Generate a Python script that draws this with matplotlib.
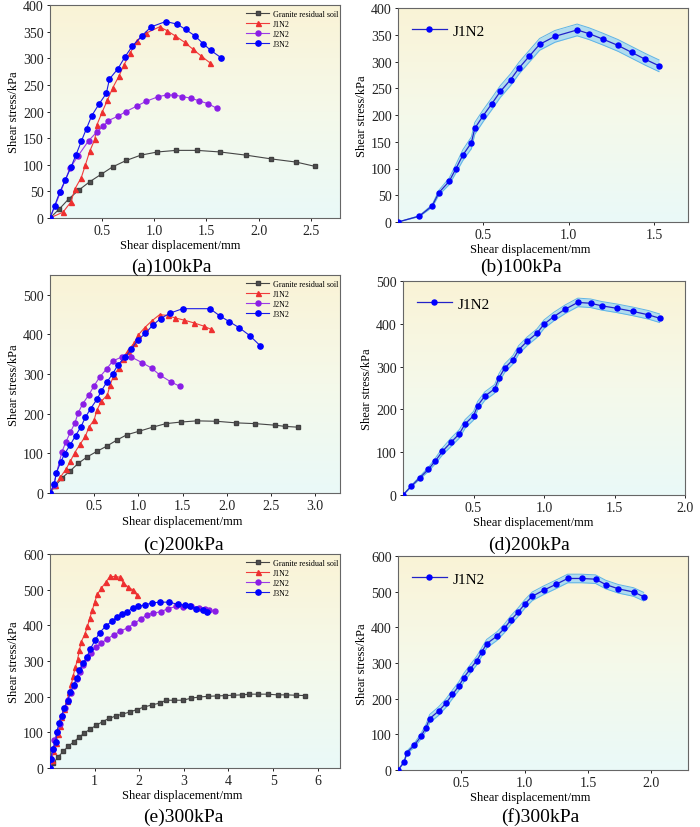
import numpy as np
import matplotlib
matplotlib.use('Agg')
import matplotlib.pyplot as plt
from matplotlib.colors import LinearSegmentedColormap

plt.rcParams['font.family'] = ['Liberation Serif', 'DejaVu Serif']
plt.rcParams['mathtext.fontset'] = 'stix'

# ---------------- data ----------------
# (a) 100 kPa
g100_x = [0, 0.09, 0.18, 0.28, 0.38, 0.49, 0.60, 0.73, 0.87, 1.03, 1.21, 1.41, 1.63, 1.88, 2.12, 2.36, 2.54]
g100_y = [0, 17, 36, 53, 68, 82, 96, 108, 118, 124, 127, 127, 124, 118, 111, 105, 97]
j1_100_x = [0, 0.125, 0.20, 0.24, 0.30, 0.34, 0.38, 0.43, 0.45, 0.50, 0.55, 0.60, 0.66, 0.71, 0.77,
            0.83, 0.92, 1.05, 1.12, 1.20, 1.29, 1.37, 1.45, 1.53]
j1_100_y = [0, 11, 30, 55, 76, 100, 125, 148, 175, 199, 221, 244, 266, 288, 310,
            332, 347, 359, 352, 342, 330, 317, 304, 292]
j2_100_x = [0, 0.10, 0.19, 0.27, 0.37, 0.45, 0.51, 0.56, 0.65, 0.73, 0.83, 0.92, 1.04, 1.12, 1.19,
            1.27, 1.35, 1.43, 1.51, 1.60]
j2_100_y = [0, 48, 93, 117, 145, 162, 172, 183, 191, 200, 210, 219, 228, 231, 231,
            228, 225, 220, 215, 206]
j3_100_x = [0, 0.045, 0.092, 0.146, 0.20, 0.25, 0.30, 0.35, 0.40, 0.47, 0.54, 0.57, 0.65, 0.72, 0.79,
            0.88, 0.97, 1.11, 1.22, 1.30, 1.39, 1.47, 1.54, 1.64]
j3_100_y = [0, 23, 48, 71, 95, 119, 144, 168, 192, 214, 234, 261, 280, 303, 323,
            342, 359, 369, 364, 354, 342, 327, 315, 301]

# (c) 200 kPa
g200_x = [0, 0.06, 0.14, 0.23, 0.32, 0.42, 0.53, 0.64, 0.76, 0.87, 1.01, 1.16, 1.31, 1.48, 1.66,
          1.88, 2.10, 2.32, 2.55, 2.66, 2.81]
g200_y = [0, 18, 39, 56, 75, 91, 105, 118, 134, 147, 156, 166, 175, 179, 182,
          181, 177, 175, 171, 168, 166]
j1_200_x = [0, 0.057, 0.118, 0.18, 0.23, 0.28, 0.34, 0.40, 0.44, 0.50, 0.53, 0.58, 0.65, 0.68, 0.72,
            0.78, 0.82, 0.88, 0.95, 1.00, 1.07, 1.15, 1.24, 1.33, 1.41, 1.52, 1.63, 1.74, 1.82]
j1_200_y = [0, 20, 40, 60, 80, 102, 123, 143, 166, 185, 209, 231, 248, 273, 296,
            316, 339, 359, 378, 399, 417, 434, 450, 448, 442, 436, 429, 421, 413]
j2_200_x = [0, 0.04, 0.135, 0.18, 0.23, 0.28, 0.32, 0.37, 0.44, 0.50, 0.56, 0.64, 0.71, 0.81, 0.92,
            1.04, 1.15, 1.24, 1.37, 1.47]
j2_200_y = [0, 20, 104, 129, 153, 176, 203, 225, 248, 271, 292, 313, 333, 343, 343,
            329, 315, 298, 280, 269]
j3_200_x = [0, 0.05, 0.07, 0.12, 0.165, 0.23, 0.29, 0.35, 0.40, 0.46, 0.53, 0.58, 0.64, 0.71, 0.77,
            0.85, 0.92, 0.99, 1.08, 1.16, 1.25, 1.36, 1.50, 1.81, 1.92, 2.03, 2.14, 2.26, 2.38]
j3_200_y = [0, 23, 50, 77, 99, 122, 145, 167, 191, 213, 236, 257, 279, 301, 324,
            343, 363, 385, 403, 423, 440, 454, 465, 465, 447, 432, 417, 397, 371]

# (e) 300 kPa
g300_x = [0, 0.075, 0.19, 0.30, 0.41, 0.53, 0.65, 0.77, 0.90, 1.04, 1.18, 1.32, 1.48, 1.62, 1.79,
          1.95, 2.11, 2.29, 2.46, 2.60, 2.78, 2.98, 3.17, 3.35, 3.54, 3.74, 3.92, 4.10, 4.30, 4.47,
          4.67, 4.88, 5.10, 5.30, 5.51, 5.72]
g300_y = [0, 14, 32, 47, 61, 73, 86, 98, 109, 120, 130, 139, 146, 151, 157,
          164, 171, 177, 182, 190, 190, 190, 196, 199, 201, 202, 203, 204, 205, 207,
          207, 207, 205, 205, 204, 203]
j1_300_x = [0, 0.048, 0.07, 0.13, 0.18, 0.22, 0.25, 0.32, 0.38, 0.43, 0.48, 0.52, 0.57, 0.62, 0.66,
            0.70, 0.78, 0.84, 0.89, 0.95, 1.00, 1.06, 1.15, 1.25, 1.34, 1.45, 1.56, 1.64, 1.74, 1.86, 1.94]
j1_300_y = [0, 22, 49, 70, 94, 118, 144, 165, 188, 212, 235, 259, 283, 306, 330,
            354, 375, 397, 420, 443, 465, 487, 504, 521, 537, 537, 535, 520, 508, 499, 486]
j2_300_x = [0, 0.03, 0.07, 0.10, 0.16, 0.22, 0.27, 0.33, 0.40, 0.46, 0.53, 0.60, 0.67, 0.74, 0.82,
            0.91, 1.02, 1.15, 1.28, 1.43, 1.58, 1.74, 1.89, 2.04, 2.18, 2.30, 2.48, 2.65, 2.83, 2.97,
            3.15, 3.33, 3.47, 3.57, 3.69]
j2_300_y = [0, 25, 52, 78, 100, 123, 146, 168, 190, 210, 230, 250, 270, 290, 308,
            323, 338, 350, 362, 373, 384, 393, 406, 418, 430, 434, 438, 447, 453, 452,
            454, 449, 447, 442, 439]
j3_300_x = [0, 0.02, 0.06, 0.13, 0.15, 0.20, 0.26, 0.32, 0.40, 0.45, 0.53, 0.60, 0.66, 0.74, 0.83,
            0.90, 1.01, 1.11, 1.25, 1.38, 1.51, 1.62, 1.73, 1.85, 1.97, 2.12, 2.29, 2.46, 2.66, 2.87,
            3.02, 3.14, 3.27, 3.42, 3.51]
j3_300_y = [0, 25, 53, 74, 100, 125, 146, 168, 189, 212, 232, 253, 274, 293, 312,
            333, 358, 379, 398, 411, 424, 432, 438, 448, 453, 457, 463, 465, 465, 459,
            457, 453, 447, 442, 437]

series_names = ['Granite residual soil', 'J1N2', 'J2N2', 'J3N2']
subtitles = ['(a)100kPa', '(b)100kPa', '(c)200kPa', '(d)200kPa', '(e)300kPa', '(f)300kPa']

# ---------------- style ----------------
W, H = 700, 828
bg_cmap = LinearSegmentedColormap.from_list('bg', ['#eafaf8', '#f5f9ea', '#faf3d6'])
styles = [
    dict(color='#454545', marker='s', ms=3.0, mfc='#505050', mec='#404040'),
    dict(color='#f03c3c', marker='^', ms=3.6, mfc='#ee3030', mec='#ee3030'),
    dict(color='#9a3ce6', marker='o', ms=3.6, mfc='#8a1ee6', mec='#8a1ee6'),
    dict(color='#1a1ae6', marker='o', ms=3.8, mfc='#0000ff', mec='#0000ff'),
]

fig = plt.figure(figsize=(W / 100, H / 100), dpi=100)


def px_axes(l, t, r, b):
    return fig.add_axes([l / W, 1 - b / H, (r - l) / W, (b - t) / H])


def paint(ax, xlim, ylim, xticks, yticks, xfmt):
    grad = np.linspace(0, 1, 256).reshape(-1, 1)
    ax.imshow(grad, cmap=bg_cmap, aspect='auto', extent=[0, 1, 0, 1],
              transform=ax.transAxes, origin='lower', zorder=0)
    ax.set_xlim(*xlim)
    ax.set_ylim(*ylim)
    ax.set_xticks(xticks)
    ax.set_xticklabels([xfmt.format(v) for v in xticks])
    ax.set_yticks(yticks)
    ax.tick_params(direction='out', length=2.5, width=0.7, labelsize=10, pad=2, colors='#222222')
    for s in ax.spines.values():
        s.set_color('#666666')
        s.set_linewidth(0.8)
    ax.set_xlabel('Shear displacement/mm', fontsize=9)
    ax.set_ylabel('Shear stress/kPa', fontsize=9, labelpad=2)


def left_panel(box, data, xlim, ylim, xticks, yticks, xfmt, xl_pos, sub_pos, sub):
    ax = px_axes(*box)
    paint(ax, xlim, ylim, xticks, yticks, xfmt)
    for (x, y), name, st in zip(data, series_names, styles):
        ax.plot(x, y, lw=0.8, label=name, zorder=3, **st)
    ax.legend(loc='upper left', bbox_to_anchor=(0.66, 1.0), frameon=False, fontsize=5.8,
              handlelength=2.8, handletextpad=0.5, labelspacing=0.25, borderaxespad=0.2)
    ax.xaxis.set_label_coords(xl_pos, -0.1)
    fig.text(sub_pos[0] / W, 1 - sub_pos[1] / H, sub, ha='center', va='center', fontsize=14)
    return ax


def right_panel(box, x, y, xlim, ylim, xticks, yticks, xfmt, xl_pos, sub_pos, sub, band):
    ax = px_axes(*box)
    paint(ax, xlim, ylim, xticks, yticks, xfmt)
    x = np.asarray(x, float)
    y = np.asarray(y, float)
    hw = np.minimum(band, 0.08 * y)
    ax.fill_between(x, y - hw, y + hw, color='#a9daf2', alpha=0.9, lw=0, zorder=2)
    ax.plot(x, y + hw, color='#5fb4e6', lw=0.7, zorder=2)
    ax.plot(x, y - hw, color='#5fb4e6', lw=0.7, zorder=2)
    ax.plot(x, y, color='#2222c8', lw=0.9, marker='o', ms=3.6, mfc='#0000ff', mec='#0000ff',
            label='J1N2', zorder=3)
    ax.legend(loc='upper left', bbox_to_anchor=(0.0, 0.99), frameon=False, fontsize=11,
              handlelength=2.3, handletextpad=0.35, borderaxespad=0.5)
    ax.xaxis.set_label_coords(xl_pos, -0.1)
    fig.text(sub_pos[0] / W, 1 - sub_pos[1] / H, sub, ha='center', va='center', fontsize=14)
    return ax


left_panel((50, 6, 340, 219),
           [(g100_x, g100_y), (j1_100_x, j1_100_y), (j2_100_x, j2_100_y), (j3_100_x, j3_100_y)],
           (0, 2.78), (0, 400), [0.5, 1.0, 1.5, 2.0, 2.5], range(0, 401, 50), '{:.1f}',
           0.45, (171, 267), subtitles[0])
right_panel((398, 9, 688, 223), j1_100_x, j1_100_y,
            (0, 1.70), (0, 400), [0.5, 1.0, 1.5], range(0, 401, 50), '{:.1f}',
            0.455, (521, 267), subtitles[1], 11)

left_panel((50, 276, 340, 494),
           [(g200_x, g200_y), (j1_200_x, j1_200_y), (j2_200_x, j2_200_y), (j3_200_x, j3_200_y)],
           (0, 3.28), (0, 550), [0.5, 1.0, 1.5, 2.0, 2.5, 3.0], range(0, 501, 100), '{:.1f}',
           0.455, (183, 545), subtitles[2])
right_panel((403, 282, 685, 496), j1_200_x, j1_200_y,
            (0, 2.0), (0, 500), [0.5, 1.0, 1.5, 2.0], range(0, 501, 100), '{:.1f}',
            0.46, (529, 545), subtitles[3], 10)

left_panel((50, 555, 340, 769),
           [(g300_x, g300_y), (j1_300_x, j1_300_y), (j2_300_x, j2_300_y), (j3_300_x, j3_300_y)],
           (0, 6.5), (0, 600), [1, 2, 3, 4, 5, 6], range(0, 601, 100), '{:d}',
           0.455, (183, 817), subtitles[4])
right_panel((398, 557, 688, 771), j1_300_x, j1_300_y,
            (0, 2.29), (0, 600), [0.5, 1.0, 1.5, 2.0], range(0, 601, 100), '{:.1f}',
            0.455, (540, 817), subtitles[5], 12)

fig.savefig('out.png', dpi=100)
